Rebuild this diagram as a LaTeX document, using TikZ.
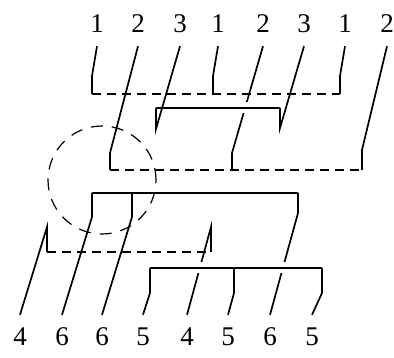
\documentclass[tikz,border=0pt]{standalone}
\usepackage{fontspec}
\setmainfont{Liberation Serif}
\begin{document}
\begin{tikzpicture}[x=1pt, y=-1pt,
    lab/.style={inner sep=0pt, minimum height=44pt, font=\fontsize{27}{27}\selectfont},
    hook/.style={line width=1.7pt, line join=miter},
    solidbar/.style={line width=1.6pt},
    dashbar/.style={line width=1.6pt, dash pattern=on 9pt off 6pt},
    gap/.style={preaction={draw=white, line width=11pt}},
    ring/.style={draw, circle, line width=1.2pt, dash pattern=on 12pt off 9pt, minimum size=108pt, inner sep=0pt}
]
\useasboundingbox (0,0) rectangle (394,358);

% upper row of labels
\node[lab] (t1) at (97,24) {1};
\node[lab] (t2) at (138,24) {2};
\node[lab] (t3) at (180,24) {3};
\node[lab] (t4) at (218,24) {1};
\node[lab] (t5) at (263,24) {2};
\node[lab] (t6) at (304,24) {3};
\node[lab] (t7) at (345,24) {1};
\node[lab] (t8) at (387,24) {2};

% lower row of labels
\node[lab] (b1) at (20,337) {4};
\node[lab] (b2) at (62,337) {6};
\node[lab] (b3) at (102,337) {6};
\node[lab] (b4) at (143,337) {5};
\node[lab] (b5) at (187,337) {4};
\node[lab] (b6) at (228,337) {5};
\node[lab] (b7) at (270,337) {6};
\node[lab] (b8) at (312,337) {5};

% bends of the strands
\coordinate (k1) at (92,76);
\coordinate (k2) at (110,153);
\coordinate (k3) at (156,129);
\coordinate (k4) at (213,76);
\coordinate (k5) at (232,153);
\coordinate (k6) at (280,128);
\coordinate (k7) at (340,76);
\coordinate (k8) at (362,150);
\coordinate (m1) at (47,227);
\coordinate (m2) at (92,217);
\coordinate (m3) at (132,217);
\coordinate (m4) at (150,293);
\coordinate (m5) at (211,227);
\coordinate (m6) at (234,293);
\coordinate (m7) at (298,213);
\coordinate (m8) at (322,293);

% heights of the bars
\coordinate (barA) at (0,94);
\coordinate (barB) at (0,108);
\coordinate (barC) at (0,170);
\coordinate (barD) at (0,193);
\coordinate (barE) at (0,252);
\coordinate (barF) at (0,268);

% strands passing under a bar
\draw[hook] (t5.south) -- (k5) -- (k5 |- barC);
\draw[hook] (b5.north) -- (m5) -- (m5 |- barE);
\draw[hook] (b7.north) -- (m7) -- (m7 |- barD);

% solid bars with a break round them
\draw[solidbar, gap] (k3 |- barB) -- (k6 |- barB);
\draw[solidbar, gap] (m4 |- barF) -- (m8 |- barF);

% label 1
\draw[hook] (t1.south) -- (k1) -- (k1 |- barA);
\draw[hook] (t4.south) -- (k4) -- (k4 |- barA);
\draw[hook] (t7.south) -- (k7) -- (k7 |- barA);
\draw[dashbar] (k1 |- barA) -- (k7 |- barA);

% label 3
\draw[hook] (t3.south) -- (k3) -- (k3 |- barB);
\draw[hook] (t6.south) -- (k6) -- (k6 |- barB);

% label 2
\draw[hook] (t2.south) -- (k2) -- (k2 |- barC);
\draw[hook] (t8.south) -- (k8) -- (k8 |- barC);
\draw[dashbar] (k2 |- barC) -- (k8 |- barC);

% label 6
\draw[hook] (b2.north) -- (m2) -- (m2 |- barD);
\draw[hook] (b3.north) -- (m3) -- (m3 |- barD);
\draw[solidbar] (m2 |- barD) -- (m7 |- barD);

% label 4
\draw[hook] (b1.north) -- (m1) -- (m1 |- barE);
\draw[dashbar] (m1 |- barE) -- (m5 |- barE);

% label 5
\draw[hook] (b4.north) -- (m4) -- (m4 |- barF);
\draw[hook] (b6.north) -- (m6) -- (m6 |- barF);
\draw[hook] (b8.north) -- (m8) -- (m8 |- barF);

\node[ring] (zone) at (102,180) {};
\end{tikzpicture}
\end{document}
